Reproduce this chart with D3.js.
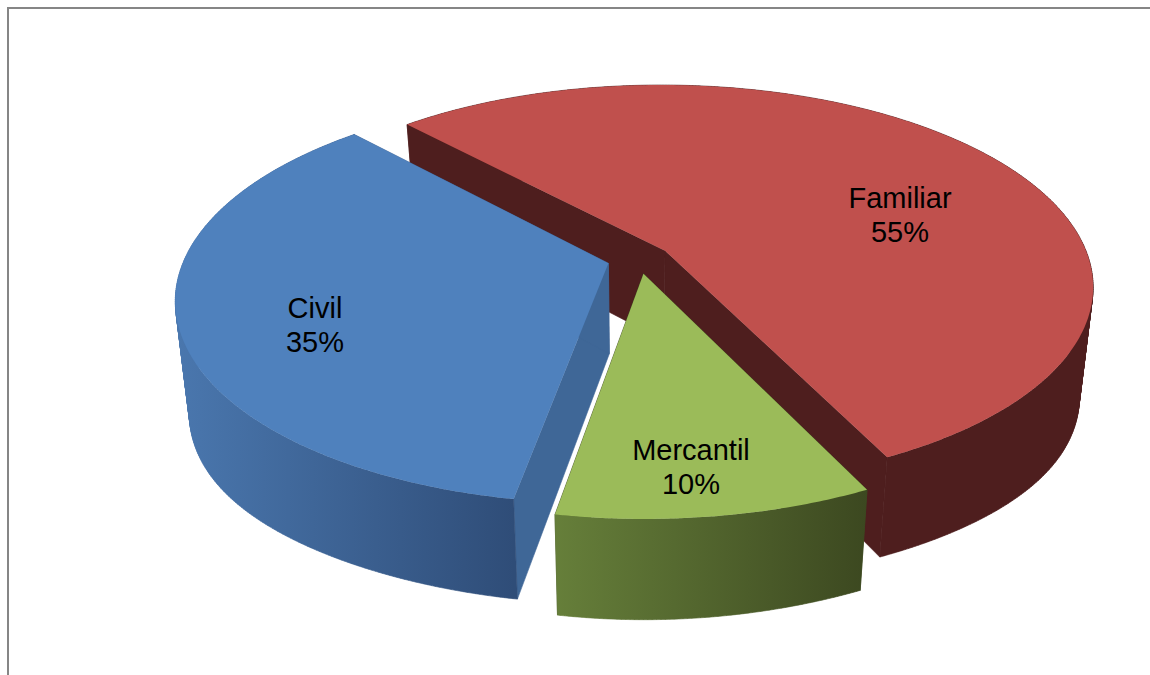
<!DOCTYPE html>
<html>
<head>
<meta charset="utf-8">
<script src="https://cdn.jsdelivr.net/npm/d3@7"></script>
<style>
html, body { margin: 0; padding: 0; background: #fff; overflow: hidden; }
svg { display: block; }
text { font-family: "Liberation Sans", Arial, sans-serif; font-size: 29px; fill: #000; }
</style>
</head>
<body>
<svg id="chart" width="1150" height="675"></svg>
<script>
// values, clockwise from the back left edge of the red slice
var categories = ['Familiar', 'Mercantil', 'Civil'];
var shares = [54.75, 9.95, 35.3];
var topColors = ['#c0504d', '#9bbb59', '#4f81bd'];
var edgeColors = ['#4e1e1e', '#3c4820', '#3f6797'];
var wallStops = [['#4e1e1e', '#4e1e1e'], ['#667f3a', '#3c4820'], ['#4a77ae', '#2f4d78']];
var labelSpots = [[900, 198], [691, 450], [315, 308]];

var W = 1150, H = 675;
var rad = Math.PI / 180;

// projection of the pie plane: perspective ellipse, far side smaller
var cx = 639, cy = 259, a = 424, b = 197, t = 0.173;
var explode = 0.075;

function project(u, v) {
  var w = 1 + t * v;
  return [cx + a * u / w, cy - b * v / w];
}
// lower face of the pie
function drop(p) {
  var side = Math.pow((p[0] - cx) / a, 4);
  return [cx + 0.97 * (p[0] - cx), 1.04 * p[1] + 80 + 13 * side];
}

var svg = d3.select('#chart');
var defs = svg.append('defs');

svg.append('rect').attr('x', 7).attr('y', 7).attr('width', W - 7).attr('height', 2).attr('fill', '#868686');
svg.append('rect').attr('x', 7).attr('y', 7).attr('width', 2).attr('height', H - 7).attr('fill', '#868686');

var pie = d3.pie().sort(null).startAngle(-43 * rad).endAngle(317 * rad);
var arcs = pie(shares);
var line = d3.line();

// red goes first, it sits behind the other two
var order = [0, 2, 1];
order.forEach(function(i){
  var d = arcs[i];
  var mid = (d.startAngle + d.endAngle) / 2;
  var ou = explode * Math.sin(mid), ov = explode * Math.cos(mid);
  var apex = project(ou, ov);
  var rim = d3.range(d.startAngle, d.endAngle, 0.5 * rad).concat([d.endAngle]).map(function(r){
    return project(ou + Math.sin(r), ov + Math.cos(r));
  });
  var g = svg.append('g').attr('class', 'slice');

  // flat cut faces
  [rim[0], rim[rim.length - 1]].forEach(function(p){
    g.append('path')
      .attr('d', line([apex, p, drop(p), drop(apex)]) + 'Z')
      .attr('fill', edgeColors[i])
      .attr('stroke', edgeColors[i])
      .attr('stroke-width', 0.6);
  });

  // outer wall, as quads turned the same way so the fill does not cancel at the sides
  var x0 = d3.min(rim, function(p){ return p[0]; });
  var x1 = i == 2 ? rim[0][0] : d3.max(rim, function(p){ return p[0]; });
  var grad = defs.append('linearGradient')
    .attr('id', 'wall' + i)
    .attr('gradientUnits', 'userSpaceOnUse')
    .attr('x1', x0).attr('x2', x1).attr('y1', 0).attr('y2', 0);
  grad.append('stop').attr('offset', 0).attr('stop-color', wallStops[i][0]);
  grad.append('stop').attr('offset', 1).attr('stop-color', wallStops[i][1]);
  var quads = d3.pairs(rim).map(function(s){
    var q = [s[0], s[1], drop(s[1]), drop(s[0])];
    if (d3.polygonArea(q) < 0) q.reverse();
    return line(q) + 'Z';
  });
  g.append('path')
    .attr('d', quads.join(''))
    .attr('fill', 'url(#wall' + i + ')')
    .attr('stroke', 'url(#wall' + i + ')')
    .attr('stroke-width', 0.6);

  // top face
  g.append('path')
    .attr('d', line([apex].concat(rim)) + 'Z')
    .attr('fill', topColors[i]);
});

var labels = svg.append('g').selectAll('text').data(arcs).enter().append('text')
  .attr('text-anchor', 'middle');
labels.append('tspan')
  .attr('x', function(d, i){ return labelSpots[i][0]; })
  .attr('y', function(d, i){ return labelSpots[i][1] + 10; })
  .text(function(d, i){ return categories[i]; });
labels.append('tspan')
  .attr('x', function(d, i){ return labelSpots[i][0]; })
  .attr('y', function(d, i){ return labelSpots[i][1] + 44; })
  .text(function(d){ return Math.round(d.value) + '%'; });
</script>
</body>
</html>
